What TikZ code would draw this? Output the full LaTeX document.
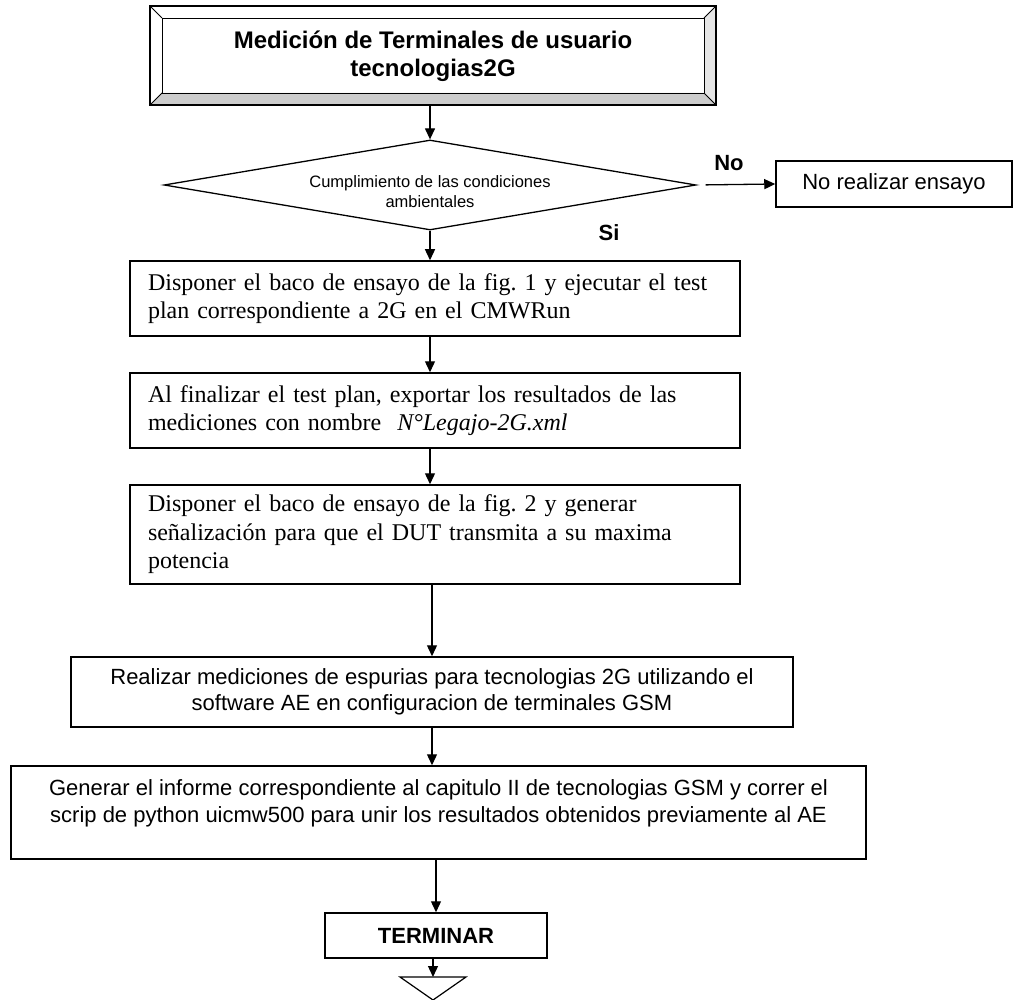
\documentclass[tikz,border=0pt]{standalone}
\usepackage{fontspec}
\setmainfont{Liberation Serif}
\newfontfamily\arial{Liberation Sans}
\usetikzlibrary{arrows.meta,shapes.geometric}
\frenchspacing
\begin{document}
\begin{tikzpicture}[x=1pt,y=-1pt,
  arr/.style={-{Triangle[length=11pt,width=10pt]}, line width=1.3pt},
  proc/.style={draw, line width=1.5pt, inner xsep=18pt, inner ysep=0pt, font=\fontsize{24}{28.5}\selectfont, align=left, text width=574pt},
  aproc/.style={draw, line width=1.5pt, inner sep=0pt, font=\arial\fontsize{22}{26}\selectfont, align=center},
  lbl/.style={font=\arial\bfseries\fontsize{22}{26}\selectfont, inner sep=0pt}]
\useasboundingbox (0,0) rectangle (1014,1000);
% top bevel box
\node[minimum width=566pt, minimum height=99pt, inner sep=0pt] (topbox) at (433,55.5) {};
\fill[gray!40] (150,105) -- (716,105) -- (704,93) -- (162,93) -- cycle;
\fill[gray!20] (716,6) -- (716,105) -- (704,93) -- (704,18) -- cycle;
\draw[line width=1.3pt] (150,6) rectangle (716,105);
\draw[line width=0.8pt] (162,18) rectangle (704,93);
\draw[line width=0.8pt] (150,6) -- (162,18) (716,6) -- (704,18) (150,105) -- (162,93) (716,105) -- (704,93);
\node[font=\arial\bfseries\fontsize{24}{28}\selectfont, align=center, inner sep=0pt] (toptext) at (433,56) {Medición de Terminales de usuario\\tecnologias2G};
% decision
\node[draw, diamond, line width=1.3pt, minimum width=532pt, minimum height=90pt, inner sep=0pt] (dia) at (430,185) {};
\node[font=\arial\fontsize{16.5}{20}\selectfont, align=center, inner sep=0pt] (diatext) at (430,192) {Cumplimiento de las condiciones\\ambientales};
\node[aproc, minimum width=236pt, minimum height=46pt] (nobox) at (894,184) {No realizar ensayo};
\node[lbl] (no) at (729,163) {No};
\node[lbl] (si) at (609,233) {Si};
% process boxes
\node[proc, minimum height=75pt] (b1) at (435,298.5) {\mbox{Disponer el baco de ensayo de la fig. 1 y ejecutar el test}\\plan correspondiente a 2G en el CMWRun};
\node[proc, minimum height=75pt] (b2) at (435,410.5) {\mbox{Al finalizar el test plan, exportar los resultados de las}\\mediciones con nombre\ \ \textit{N°Legajo-2G.xml}};
\node[proc, minimum height=99pt] (b3) at (435,534.5) {\mbox{Disponer el baco de ensayo de la fig. 2 y generar}\\\mbox{señalización para que el DUT transmita a su maxima}\\potencia};
\node[aproc, minimum width=722pt, minimum height=70pt] (r) at (432,692) {Realizar mediciones de espurias para tecnologias 2G utilizando el\\software AE en configuracion de terminales GSM};
\node[draw, line width=1.5pt, minimum width=855pt, minimum height=93pt, inner sep=0pt] (g) at (438.5,812.5) {};
\node[font=\arial\fontsize{22}{27}\selectfont, align=center, inner sep=0pt] (gtext) at (438.5,803.5) {Generar el informe correspondiente al capitulo II de tecnologias GSM y correr el\\scrip de python uicmw500 para unir los resultados obtenidos previamente al AE};
\node[draw, line width=1.5pt, minimum width=222pt, minimum height=45pt, inner sep=0pt, font=\arial\bfseries\fontsize{22}{26}\selectfont] (term) at (436,935.5) {TERMINAR};
% end triangle
\coordinate (tri) at (433,977);
\draw[line width=1.2pt] (400,977) -- (466,977) -- (433,1000) -- cycle;
% connectors
\draw[arr] (topbox.south -| dia.north) -- (dia.north);
\draw[arr, shorten <=9pt] (dia.east) -- (nobox.west);
\draw[arr] (dia.south) -- (dia.south |- b1.north);
\draw[arr] (b1.south -| dia.south) -- (b2.north -| dia.south);
\draw[arr] (b2.south -| dia.south) -- (b3.north -| dia.south);
\draw[arr] (b3.south -| r.north) -- (r.north);
\draw[arr] (r.south) -- (r.south |- g.north);
\draw[arr] (g.south -| term.north) -- (term.north);
\draw[arr] (term.south -| tri) -- (tri);
\end{tikzpicture}
\end{document}
